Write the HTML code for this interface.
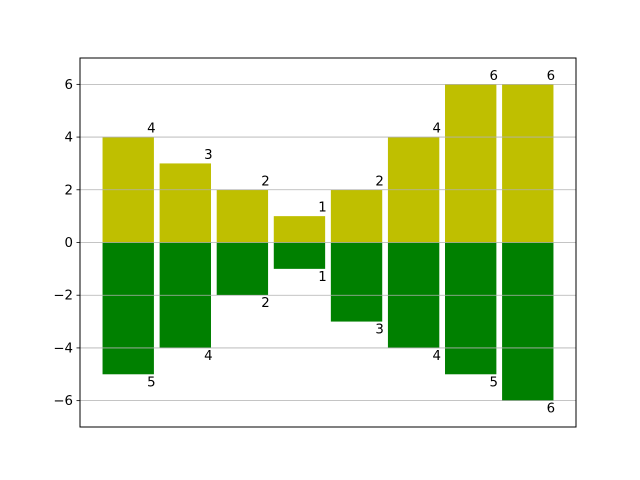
<!DOCTYPE html>
<html><head><meta charset="utf-8"><style>
body{margin:0;background:#fff}
svg{display:block;font-family:"DejaVu Sans","Liberation Sans",sans-serif}
</style></head><body>
<svg id="chart" width="640" height="480">
<rect x="0" y="0" width="640" height="480" fill="#fff"/>
<g id="bars"></g><g id="grid"></g><g id="labels"></g><g id="yaxis"></g>
<rect x="80" y="58" width="496" height="369" fill="none" stroke="#000" stroke-width="1"/>
</svg>
<script>
const categories=[0,1,2,3,4,5,6,7];
const positiveValues=[4,3,2,1,2,4,6,6];
const negativeValues=[5,4,2,1,3,4,5,6];
const yTicks=[-6,-4,-2,0,2,4,6];
const NS="http://www.w3.org/2000/svg";
const L=80,R=576,T=58,B=427;
const xMin=-0.845,xMax=7.845,yMin=-7,yMax=7;
const x=v=>L+(v-xMin)/(xMax-xMin)*(R-L);
const y=v=>B-(v-yMin)/(yMax-yMin)*(B-T);
function mk(tag,attrs,parent){const e=document.createElementNS(NS,tag);for(const k in attrs)e.setAttribute(k,attrs[k]);document.getElementById(parent).appendChild(e);return e;}
const bw=0.9;
categories.forEach((c,i)=>{
  const p=positiveValues[i],n=negativeValues[i];
  const r1=mk('rect',{x:x(c-bw/2),y:y(p),width:x(c+bw/2)-x(c-bw/2),height:y(0)-y(p),fill:'#bfbf00'},'bars');
  
  
  const r2=mk('rect',{x:x(c-bw/2),y:y(0),width:x(c+bw/2)-x(c-bw/2),height:y(-n)-y(0),fill:'#008000'},'bars');
  
  
  const t1=mk('text',{x:x(c+0.33),y:y(p)-4.5,'font-size':'13.3',fill:'#000'},'labels');
  t1.textContent=p;
  
  
  const t2=mk('text',{x:x(c+0.33),y:y(-n)+12,'font-size':'13.3',fill:'#000'},'labels');
  t2.textContent=n;
  
  
});
yTicks.forEach(t=>{
  const g=mk('line',{x1:L,x2:R,y1:y(t),y2:y(t),stroke:'#b0b0b0','stroke-width':0.8},'grid');
  
  
  const tk=mk('line',{x1:L-3.5,x2:L,y1:y(t),y2:y(t),stroke:'#000','stroke-width':0.8},'yaxis');
  
  
  const lb=mk('text',{x:L-7,y:y(t)+4.5,'font-size':'13.3','text-anchor':'end',fill:'#000'},'yaxis');
  lb.textContent=(t<0?'\u2212'+(-t):''+t);
  
  
});
</script>
</body></html>
